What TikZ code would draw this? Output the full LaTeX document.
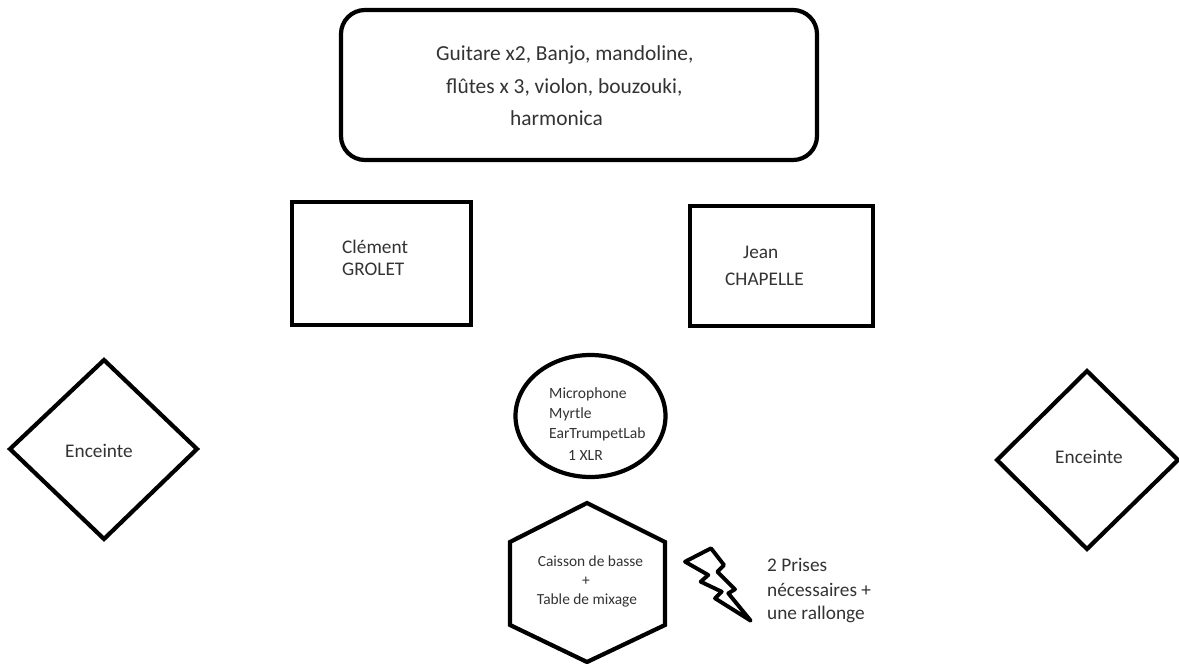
\documentclass[tikz,border=0pt]{standalone}
\usepackage{fontspec}
\setmainfont{Carlito}
\definecolor{txt}{HTML}{333333}
\tikzset{
  shp/.style={draw=black,line width=4.2pt,line join=miter,fill=white},
  lbl/.style={text=txt,inner sep=0pt,align=left,anchor=west},
  big/.style={lbl,font=\fontsize{21.4}{29}\selectfont},
  mid/.style={lbl,font=\fontsize{19.3}{22.5}\selectfont},
  sml/.style={lbl,font=\fontsize{15.6}{21}\selectfont},
  tiny/.style={text=txt,inner sep=0pt,font=\fontsize{15.4}{19}\selectfont}
}
\begin{document}
\begin{tikzpicture}[x=1pt,y=-1pt]
\useasboundingbox (0,0) rectangle (1179,664);
\draw[shp,rounded corners=24pt] (341,10) rectangle (817,160);
\draw[shp] (292,202) rectangle (471,325);
\draw[shp] (690,206) rectangle (873,326);
\draw[shp] (104,360) -- (197,449) -- (104,539) -- (10,449) -- cycle;
\draw[shp] (1087,371) -- (1178,460) -- (1087,549) -- (997,460) -- cycle;
\draw[shp] (590.5,416) ellipse (75pt and 61pt);
\draw[shp] (587,503) -- (665,542) -- (665,625) -- (587,662) -- (510,625) -- (510,542) -- cycle;
\draw[black,line width=3.9pt,line join=round,fill=white] (685,561.7) -- (711,548.3) -- (724,565) -- (717.3,571.7) -- (735,589.3) -- (728.3,593.3) -- (750.7,620.7) -- (715,598.3) -- (721.7,591.7) -- (700.7,581.7) -- (708.3,575) -- cycle;
\node[big] (t1) at (436,55) {Guitare x2, Banjo, mandoline,};
\node[big] (t2) at (446,87) {flûtes x 3, violon, bouzouki,};
\node[big] (t3) at (510,118) {harmonica};
\node[mid] (c1) at (342,247) {Clément};
\node[mid] (c2) at (342,269) {GROLET};
\node[mid] (j1) at (743,252) {Jean};
\node[mid] (j2) at (725,279) {CHAPELLE};
\node[mid] (e1) at (65,451) {Enceinte};
\node[mid] (e2) at (1055,457) {Enceinte};
\node[sml] (m1) at (549,394) {Microphone};
\node[sml] (m2) at (549,414) {Myrtle};
\node[sml] (m3) at (549,434) {EarTrumpetLab};
\node[sml] (m4) at (568,455) {1 XLR};
\node[tiny] (h1) at (590.5,561) {Caisson de basse};
\node[tiny] (h2) at (586,581) {+};
\node[tiny] (h3) at (587,600) {Table de mixage};
\node[mid] (p1) at (767,565) {2 Prises};
\node[mid] (p2) at (767,590) {nécessaires +};
\node[mid] (p3) at (767,614) {une rallonge};
\end{tikzpicture}
\end{document}
